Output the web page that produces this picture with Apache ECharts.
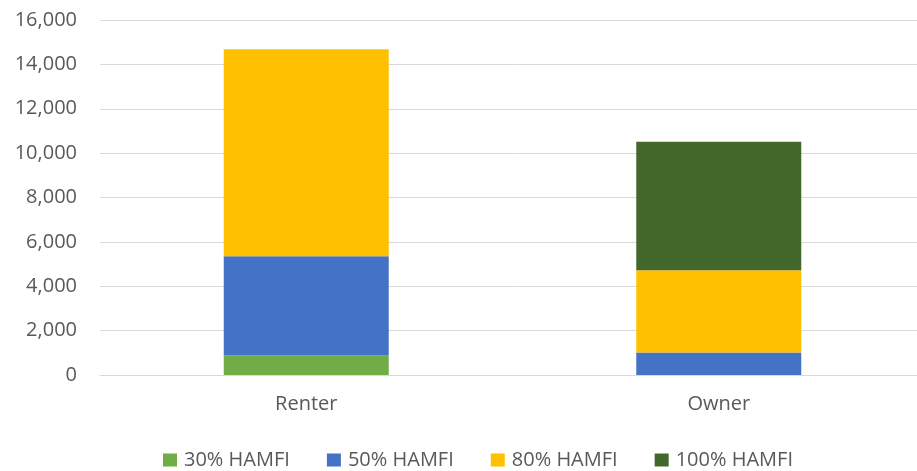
<!DOCTYPE html>
<html>
<head>
<meta charset="utf-8">
<script src="https://cdn.jsdelivr.net/npm/echarts@6/dist/echarts.min.js"></script>
<style>
  html, body { margin: 0; padding: 0; background: #fff; overflow: hidden; }
  #chart { width: 925px; height: 471px; }
</style>
</head>
<body>
<div id="chart"></div>
<script>
const categories = ['Renter', 'Owner']
const hamfi30 = [875, null]
const hamfi50 = [4480, 1010]
const hamfi80 = [9330, 3710]
const hamfi100 = [null, 5790]
const yTicks = { min: 0, max: 16000, interval: 2000 }

const font = 'Open Sans'
const grey = '#595959'

const mk = (name, data, color) => ({
  name: name,
  type: 'bar',
  stack: 'total',
  data: data,
  barWidth: 165,
  itemStyle: { color: color },
  emphasis: { disabled: true }
})

// canvas is a bit wider than the window so the plot runs off the right edge like the original
let chart = echarts.init(document.getElementById('chart'))
chart.setOption({
  animation: false,
  grid: { left: 100, right: 0, top: 20, bottom: 96 },
  legend: {
    top: 445,
    left: 158,
    itemWidth: 14,
    itemHeight: 13,
    itemGap: 37,
    icon: 'rect',
    textStyle: { fontFamily: font, fontSize: 20, color: grey, padding: [0, 0, 0, 2] },
    data: ['30% HAMFI', '50% HAMFI', '80% HAMFI', '100% HAMFI']
  },
  xAxis: {
    type: 'category',
    data: categories,
    axisLine: { lineStyle: { color: '#d9d9d9', width: 1 } },
    axisTick: { show: false },
    axisLabel: { fontFamily: font, fontSize: 20, color: grey, margin: 19 }
  },
  yAxis: {
    type: 'value',
    min: yTicks.min,
    max: yTicks.max,
    interval: yTicks.interval,
    axisLine: { show: false },
    axisTick: { show: false },
    splitLine: { lineStyle: { color: '#d9d9d9', width: 1 } },
    axisLabel: {
      fontFamily: font, fontSize: 20, color: grey, margin: 23,
      formatter: v => v.toLocaleString('en-US')
    }
  },
  series: [
    mk('30% HAMFI', hamfi30, '#70AD47'),
    mk('50% HAMFI', hamfi50, '#4472C4'),
    mk('80% HAMFI', hamfi80, '#FFC000'),
    mk('100% HAMFI', hamfi100, '#43682B')
  ]
})
</script>
</body>
</html>
